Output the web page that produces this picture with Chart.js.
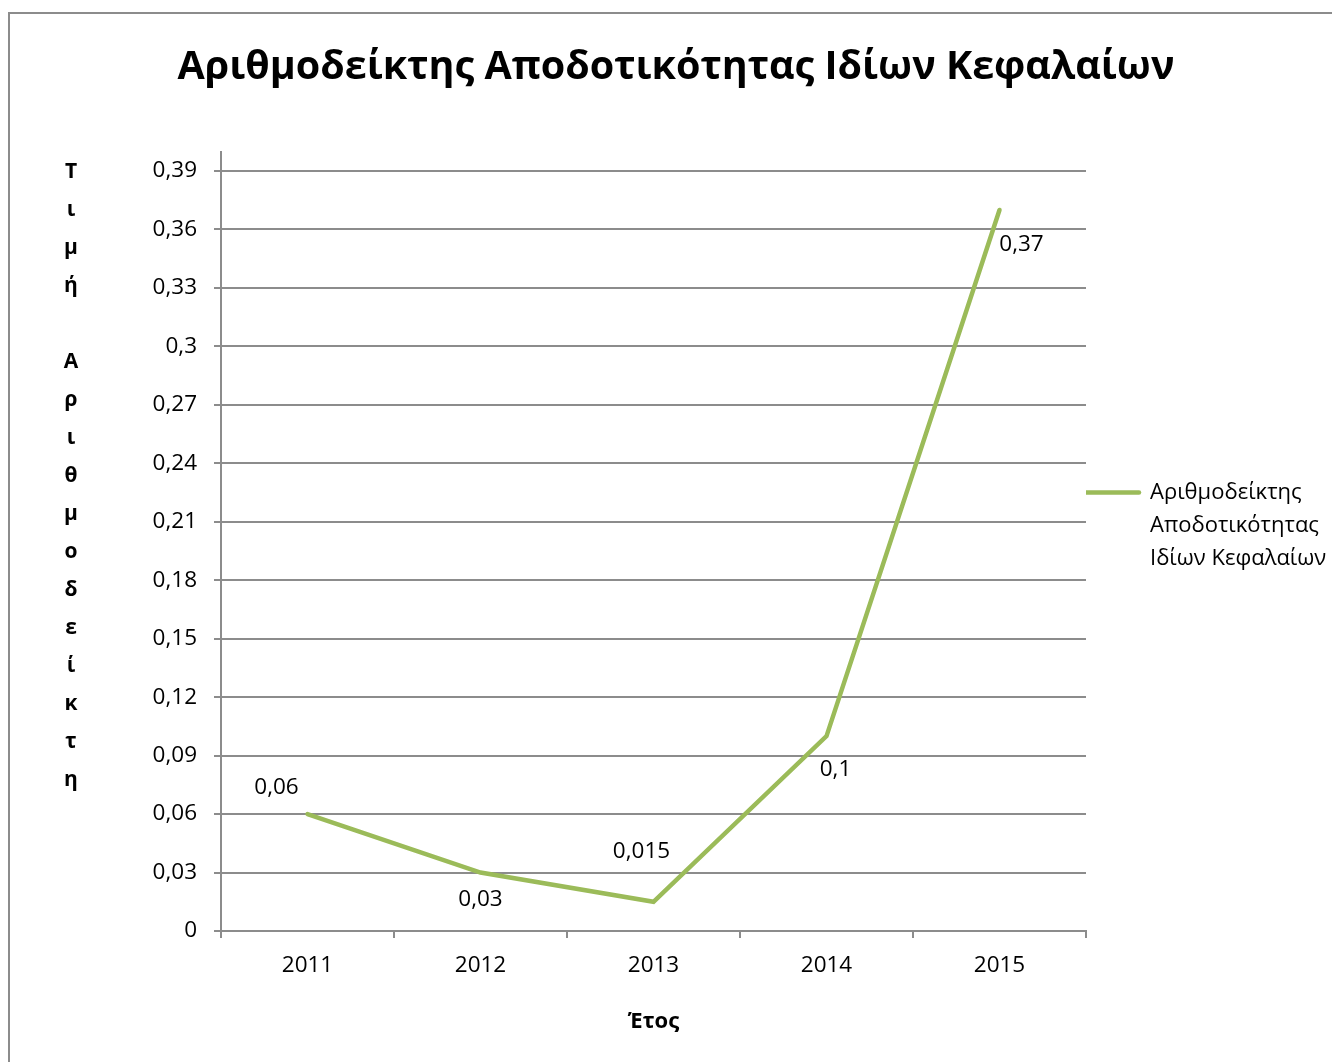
<!DOCTYPE html>
<html><head><meta charset="utf-8">
<script src="https://cdn.jsdelivr.net/npm/chart.js@4/dist/chart.umd.min.js"></script>
<style>
html,body{margin:0;padding:0;background:#fff;overflow:hidden;width:1332px;height:1062px;}
#frame{position:absolute;left:8px;top:12px;width:1400px;height:1100px;border:2px solid #8c8c8c;box-sizing:border-box;}
#c{position:absolute;left:0;top:0;}
</style></head><body>
<div id="frame"></div>
<canvas id="c" width="1332" height="1062"></canvas>
<script>
const chartTitle = 'Αριθμοδείκτης Αποδοτικότητας Ιδίων Κεφαλαίων';
const seriesName = ['Αριθμοδείκτης', 'Αποδοτικότητας', 'Ιδίων Κεφαλαίων'];
const categories = ['2011', '2012', '2013', '2014', '2015'];
const values = [0.06, 0.03, 0.015, 0.1, 0.37];
const yTickValues = [0, 0.03, 0.06, 0.09, 0.12, 0.15, 0.18, 0.21, 0.24, 0.27, 0.3, 0.33, 0.36, 0.39];
const yTickLabels = ['0', '0,03', '0,06', '0,09', '0,12', '0,15', '0,18', '0,21', '0,24', '0,27', '0,3', '0,33', '0,36', '0,39'];
const yAxisTitle = 'Τιμή Αριθμοδείκτη';
const xAxisTitle = 'Έτος';

const valueLabels = values.map(v => String(v).replace('.', ','));
// label offsets (style): dx, dy relative to point
const labelOffsets = [[-31, -26], [0, 27], [-12, -50], [9, 33], [22, 35]];

const FONT = '"Open Sans", "Noto Sans", sans-serif';
const GRID = '#8c8c8c';
const LINE = '#9BBB59';

const pointLabelPlugin = {
  id: 'pointLabels',
  afterDatasetsDraw(chart) {
    const ctx = chart.ctx;
    const meta = chart.getDatasetMeta(0);
    ctx.save();
    ctx.font = '22.5px ' + FONT;
    ctx.fillStyle = '#000';
    ctx.textAlign = 'center';
    ctx.textBaseline = 'middle';
    meta.data.forEach((pt, i) => {
      const o = labelOffsets[i];
      ctx.fillText(valueLabels[i], pt.x + o[0], pt.y + o[1]);
    });
    ctx.restore();
  }
};

const stackedYTitlePlugin = {
  id: 'stackedYTitle',
  afterDraw(chart) {
    const ctx = chart.ctx;
    ctx.save();
    ctx.font = 'bold 21px ' + FONT;
    ctx.fillStyle = '#000';
    ctx.textAlign = 'center';
    ctx.textBaseline = 'middle';
    const chars = Array.from(yAxisTitle);
    chars.forEach((ch, i) => {
      if (ch !== ' ') ctx.fillText(ch, 71, 172 + i * 38);
    });
    ctx.restore();
  }
};

new Chart(document.getElementById('c'), {
  type: 'line',
  data: {
    labels: categories,
    datasets: [{
      label: seriesName.join(' '),
      data: values,
      borderColor: LINE,
      backgroundColor: LINE,
      borderWidth: 4.5,
      pointRadius: 0,
      pointHoverRadius: 0,
      tension: 0,
      borderCapStyle: 'round',
      borderJoinStyle: 'miter'
    }]
  },
  options: {
    responsive: false,
    animation: false,
    layout: { padding: { left: 20, right: 0, top: 0, bottom: 0 } },
    plugins: {
      title: {
        display: true,
        text: chartTitle,
        color: '#000',
        font: { family: FONT, size: 39.5, weight: 'bold', lineHeight: 1.2 },
        padding: { top: 44, bottom: 60.1 }
      },
      legend: {
        display: true,
        position: 'right',
        align: 'center',
        maxWidth: 246,
        labels: {
          usePointStyle: true,
          pointStyleWidth: 53,
          padding: 0,
          color: '#000',
          font: { family: FONT, size: 22, lineHeight: 1.5 },
          generateLabels(chart) {
            const ds = chart.data.datasets[0];
            return [{
              text: seriesName,
              fillStyle: ds.borderColor,
              strokeStyle: ds.borderColor,
              lineWidth: 4.5,
              lineCap: 'round',
              pointStyle: 'line',
              hidden: false,
              datasetIndex: 0,
              fontColor: '#000'
            }];
          }
        }
      },
      tooltip: { enabled: false }
    },
    scales: {
      x: {
        type: 'category',
        offset: true,
        afterFit(scale) { scale.height = 131; },
        grid: { display: true, drawOnChartArea: false, drawTicks: true, tickLength: 7, color: GRID, lineWidth: 2, offset: true },
        border: { display: true, color: GRID, width: 2 },
        ticks: { color: '#000', font: { family: FONT, size: 22.5 }, padding: 14, maxRotation: 0 },
        title: {
          display: true, text: xAxisTitle, color: '#000',
          font: { family: FONT, size: 22, weight: 'bold', lineHeight: 1.2 },
          padding: { top: 0, bottom: 26.8 }
        }
      },
      y: {
        min: 0,
        max: 0.4,
        afterFit(scale) { scale.width = 201; },
        afterBuildTicks(scale) { scale.ticks = yTickValues.map(v => ({ value: v })); },
        grid: { color: GRID, lineWidth: 2, tickLength: 7, drawTicks: true },
        border: { display: true, color: GRID, width: 2 },
        ticks: {
          color: '#000', font: { family: FONT, size: 22.5 }, padding: 17,
          callback: (value, index) => yTickLabels[index]
        }
      }
    }
  },
  plugins: [pointLabelPlugin, stackedYTitlePlugin]
});
</script>
</body></html>
